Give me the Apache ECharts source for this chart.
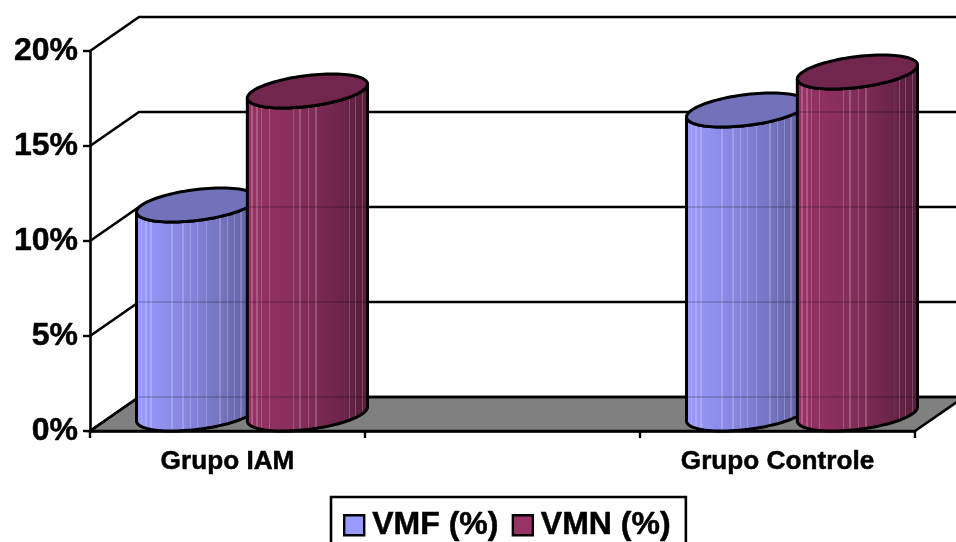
<!DOCTYPE html>
<html>
<head>
<meta charset="utf-8">
<style>html,body{margin:0;padding:0;background:#fff;overflow:hidden}#chart{width:956px;height:542px}</style>
<script src="https://cdn.jsdelivr.net/npm/echarts@6/dist/echarts.min.js"></script>
</head>
<body>
<div id="chart"></div>
<script>
// Percentages per group; the empty middle category keeps the two groups apart.
const categories = ['Grupo IAM', '', 'Grupo Controle'];
const vmf = [11, null, 16];
const vmn = [17, null, 18];
const yTicks = [0, 5, 10, 15, 20];

// Oblique projection of the chart box, in pixels.
const DEPTH_X = 49, DEPTH_Y = -34;
const TILT = 7, RY = 15.5;

const FONT = '"Liberation Sans", Arial, sans-serif';
const INK = { color: '#000', fontFamily: FONT, fontWeight: 'bold', textBorderColor: '#000', textBorderWidth: 0.5 };

const palette = {
  vmf: { stops: [[0, '#9a9aff'], [0.5, '#8181d8'], [0.8, '#6c6cb4'], [1, '#5c5c98']], top: '#7272bb', key: '#9999ff' },
  vmn: { stops: [[0, '#993366'], [0.5, '#822c59'], [0.8, '#6a2449'], [1, '#561c39']], top: '#71264e', key: '#993366' }
};
// Thin highlights on the column sides, as fractions of the column width.
const stripes = {
  vmf: [0.05, 0.09, 0.13, 0.3, 0.39, 0.45, 0.51, 0.58, 0.69, 0.75, 0.81, 0.86],
  vmn: [0.05, 0.09, 0.13, 0.19, 0.39, 0.44, 0.51, 0.57, 0.8, 0.84, 0.89, 0.95]
};

function mix(a, b, t) {
  const p = h => [1, 3, 5].map(i => parseInt(h.substr(i, 2), 16));
  const A = p(a), B = p(b);
  return 'rgb(' + A.map((v, i) => Math.round(v + (B[i] - v) * t)).join(',') + ')';
}
function shadeAt(stops, f) {
  for (let i = 1; i < stops.length; i++) {
    if (f <= stops[i][0]) {
      return mix(stops[i - 1][1], stops[i][1], (f - stops[i - 1][0]) / (stops[i][0] - stops[i - 1][0]));
    }
  }
  return stops[stops.length - 1][1];
}
function rgbToHex(c) {
  const m = c.match(/\d+/g).map(Number);
  return '#' + m.map(v => v.toString(16).padStart(2, '0')).join('');
}
function sideGradient(key) {
  const base = palette[key].stops;
  const out = [];
  const w = 0.005;
  const marks = [];
  base.forEach(s => marks.push({ at: s[0], light: false }));
  stripes[key].forEach(f => marks.push({ at: f, light: true }));
  marks.sort((a, b) => a.at - b.at);
  marks.forEach(m => {
    const c = shadeAt(base, m.at);
    if (m.light) {
      const hi = mix(rgbToHex(c), '#ffffff', 0.2);
      out.push({ offset: m.at - w, color: c }, { offset: m.at - w, color: hi },
               { offset: m.at + w, color: hi }, { offset: m.at + w, color: c });
    } else {
      out.push({ offset: m.at, color: c });
    }
  });
  return { type: 'linear', x: 0, y: 0, x2: 1, y2: 0, colorStops: out };
}

// Point on a column rim: the ellipse is sheared so that its right end sits higher.
function rim(cx, cy, r, t) {
  return [cx + r * Math.cos(t), cy - TILT * Math.cos(t) + RY * Math.sin(t)];
}

function frameItem(params, api) {
  const c = params.coordSys;
  const right = c.x + c.width;
  const y0 = api.coord([0, 0])[1];
  const floor = {
    type: 'polygon',
    shape: { points: [[c.x, y0], [c.x + DEPTH_X, y0 + DEPTH_Y], [right + DEPTH_X, y0 + DEPTH_Y], [right, y0]] },
    style: { fill: '#808080', stroke: '#000', lineWidth: 2.6 }
  };
  const lines = yTicks.map(v => {
    const y = api.coord([0, v])[1];
    return {
      type: 'polyline',
      shape: { points: [[c.x, y], [c.x + DEPTH_X, y + DEPTH_Y], [right + DEPTH_X, y + DEPTH_Y]] },
      style: { fill: 'none', stroke: '#000', lineWidth: 2.6 }
    };
  });
  return { type: 'group', children: [floor].concat(lines) };
}

function columnItem(key, side) {
  return function (params, api) {
    const p = api.coord([api.value(0), api.value(1)]);
    const base = api.coord([api.value(0), 0]);
    const band = api.size([1, 0])[0];
    const r = band * 0.2185;
    const cx = p[0] + DEPTH_X / 2 + side * band * 0.2015;
    const topY = p[1] + DEPTH_Y / 2;
    const botY = base[1] + DEPTH_Y / 2;
    const body = [];
    for (let i = 0; i <= 48; i++) body.push(rim(cx, botY, r, Math.PI - Math.PI * i / 48));
    for (let i = 0; i <= 48; i++) body.push(rim(cx, topY, r, Math.PI * i / 48));
    const cap = [];
    for (let i = 0; i < 96; i++) cap.push(rim(cx, topY, r, 2 * Math.PI * i / 96));
    const children = [{
      type: 'polygon', shape: { points: body },
      style: { fill: sideGradient(key), stroke: '#000', lineWidth: 3, lineJoin: 'round' }
    }];
    // The back-wall lines show faintly through the columns.
    yTicks.forEach(v => {
      const y = api.coord([0, v])[1] + DEPTH_Y;
      if (y > topY + RY + 12 && y < botY - 8) {
        children.push({
          type: 'line', shape: { x1: cx - r + 1.5, y1: y, x2: cx + r - 1.5, y2: y },
          style: { stroke: 'rgba(0,0,0,0.16)', lineWidth: 2 }
        });
      }
    });
    children.push({
      type: 'polygon', shape: { points: cap },
      style: { fill: palette[key].top, stroke: '#000', lineWidth: 3 }
    });
    return { type: 'group', children };
  };
}

const toPoints = arr => arr.map((v, i) => [i, v]).filter(d => d[1] !== null);

const chart = echarts.init(document.getElementById('chart'), null, { renderer: 'canvas' });
chart.setOption({
  animation: false,
  backgroundColor: '#fff',
  grid: { left: 90, top: 51, width: 825, height: 380, containLabel: false },
  xAxis: {
    type: 'category',
    data: categories,
    boundaryGap: true,
    z: 5,
    axisLine: { lineStyle: { color: '#000', width: 2.6 } },
    axisTick: { show: true, length: 7, alignWithLabel: false, interval: 0, lineStyle: { color: '#000', width: 2.4 } },
    axisLabel: Object.assign({ interval: 0, margin: 18, fontSize: 26.2 }, INK)
  },
  yAxis: {
    type: 'value',
    min: 0, max: 20, interval: 5,
    z: 5,
    splitLine: { show: false },
    axisLine: { show: true, lineStyle: { color: '#000', width: 2.6 } },
    axisTick: { show: true, length: 7, lineStyle: { color: '#000', width: 2.4 } },
    axisLabel: Object.assign({ formatter: '{value}%', margin: 12, fontSize: 32, padding: [3, 0, 0, 0] }, INK)
  },
  legend: {
    left: 331, top: 497,
    padding: [12, 15, 14, 12],
    itemGap: 13,
    itemWidth: 20, itemHeight: 20,
    icon: 'rect',
    borderColor: '#000', borderWidth: 2.6,
    backgroundColor: '#fff',
    textStyle: Object.assign({ fontSize: 32, padding: [0, 0, 0, 3] }, INK),
    data: [
      { name: 'VMF (%)', itemStyle: { color: palette.vmf.key, borderColor: '#000', borderWidth: 2.4 } },
      { name: 'VMN (%)', itemStyle: { color: palette.vmn.key, borderColor: '#000', borderWidth: 2.4 } }
    ]
  },
  series: [
    { type: 'custom', name: 'frame', silent: true, z: 1, data: [[0, 0]], renderItem: frameItem, encode: { x: 0, y: 1 } },
    { type: 'custom', name: 'VMF (%)', z: 2, data: toPoints(vmf), renderItem: columnItem('vmf', -1), encode: { x: 0, y: 1 }, itemStyle: { color: palette.vmf.key } },
    { type: 'custom', name: 'VMN (%)', z: 3, data: toPoints(vmn), renderItem: columnItem('vmn', 1), encode: { x: 0, y: 1 }, itemStyle: { color: palette.vmn.key } }
  ]
});
</script>
</body>
</html>
